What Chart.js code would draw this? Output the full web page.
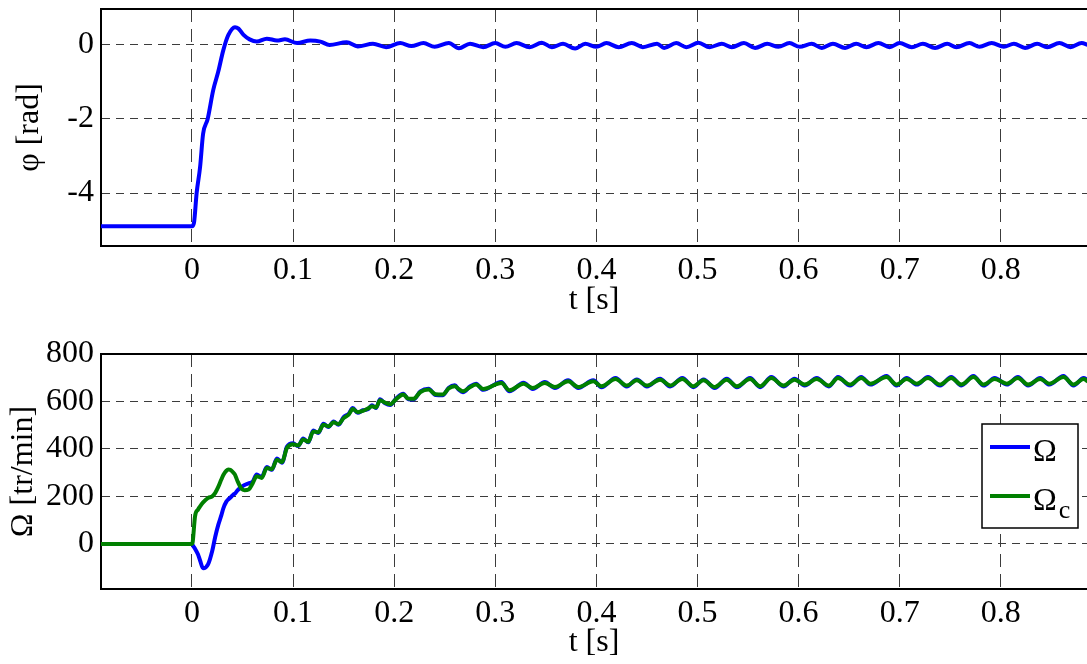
<!DOCTYPE html>
<html><head><meta charset="utf-8">
<script src="https://cdn.jsdelivr.net/npm/chart.js@4"></script>
<style>
html,body{margin:0;padding:0;background:#fff;}
#wrap{position:relative;width:1087px;height:664px;overflow:hidden;background:#fff;}
canvas{position:absolute;left:0;}
</style></head><body>
<div id="wrap">
<canvas id="c1" width="1087" height="330" style="top:0px"></canvas>
<canvas id="c2" width="1087" height="334" style="top:330px"></canvas>
</div>
<script>
// ---- tick labels ----
const xTicks = [0, 0.1, 0.2, 0.3, 0.4, 0.5, 0.6, 0.7, 0.8];
const phiTicks = [-4, -2, 0];
const omegaTicks = [0, 200, 400, 600, 800];

// ---- top plot: phi [rad] vs t [s] ----
const phiT = [
  -0.09, 0, 0.002, 0.0046, 0.008, 0.011, 0.0155, 0.021, 0.026, 0.031,
  0.036, 0.0425, 0.046, 0.051, 0.057, 0.064, 0.074, 0.084, 0.092, 0.104,
  0.117, 0.127, 0.136, 0.153, 0.164, 0.179, 0.192, 0.206, 0.217, 0.229,
  0.240, 0.254, 0.264, 0.275, 0.288, 0.300, 0.310, 0.321, 0.334, 0.346,
  0.356, 0.367, 0.379, 0.389, 0.400, 0.410, 0.422, 0.435, 0.446, 0.460,
  0.467, 0.479, 0.489, 0.501, 0.512, 0.524, 0.534, 0.546, 0.557, 0.569,
  0.580, 0.591, 0.601, 0.613, 0.623, 0.634, 0.646, 0.657, 0.667, 0.679,
  0.690, 0.700, 0.712, 0.723, 0.735, 0.747, 0.756, 0.769, 0.779, 0.791,
  0.803, 0.813, 0.824, 0.836, 0.846, 0.858, 0.869, 0.880, 0.886
];
const phi = [
  -4.9, -4.9, -4.8, -4.0, -3.3, -2.4, -2.0, -1.22, -0.72, -0.14,
  0.27, 0.48, 0.44, 0.27, 0.15, 0.09, 0.17, 0.12, 0.15, 0.05,
  0.12, 0.09, 0.0, 0.07, -0.04, 0.03, -0.06, 0.05, -0.03, 0.05,
  -0.05, 0.05, -0.09, 0.03, -0.06, 0.05, -0.05, 0.05, -0.06, 0.06,
  -0.06, 0.03, -0.1, 0.03, -0.05, 0.05, -0.06, 0.05, -0.06, 0.03,
  -0.08, 0.05, -0.06, 0.06, -0.06, 0.03, -0.06, 0.05, -0.08, 0.03,
  -0.05, 0.05, -0.05, 0.03, -0.08, 0.03, -0.08, 0.03, -0.06, 0.05,
  -0.06, 0.05, -0.06, 0.03, -0.08, 0.03, -0.06, 0.05, -0.05, 0.05,
  -0.05, 0.03, -0.08, 0.03, -0.06, 0.05, -0.06, 0.05, 0.0
];

// ---- bottom plot: Omega [tr/min] vs t [s] ----
const omegaT = [
  -0.09, 0, 0.0006, 0.003, 0.006, 0.008, 0.011, 0.016, 0.020, 0.023,
  0.026, 0.029, 0.031, 0.034, 0.036, 0.038, 0.041, 0.0425, 0.045, 0.049,
  0.052, 0.056, 0.060, 0.064, 0.069, 0.074, 0.079, 0.084, 0.089, 0.094,
  0.100, 0.105, 0.110, 0.115, 0.120, 0.125, 0.130, 0.135, 0.140, 0.145,
  0.150, 0.155, 0.159, 0.164, 0.169, 0.174, 0.178, 0.182, 0.186, 0.191,
  0.196, 0.202, 0.209, 0.214, 0.219, 0.226, 0.234, 0.241, 0.248, 0.254,
  0.260, 0.264, 0.268, 0.275, 0.281, 0.288, 0.306, 0.314, 0.328, 0.337,
  0.349, 0.359, 0.372, 0.382, 0.397, 0.405, 0.419, 0.430, 0.440, 0.450,
  0.463, 0.473, 0.485, 0.496, 0.506, 0.517, 0.529, 0.539, 0.552, 0.562,
  0.573, 0.585, 0.596, 0.606, 0.618, 0.630, 0.639, 0.651, 0.662, 0.671,
  0.687, 0.697, 0.707, 0.717, 0.728, 0.740, 0.751, 0.761, 0.773, 0.783,
  0.794, 0.806, 0.817, 0.827, 0.839, 0.848, 0.862, 0.872, 0.882, 0.886
];
const omega = [
  0, 0, -5, -20, -45, -70, -103, -85, -30, 30,
  80, 120, 150, 178, 188, 195, 208, 212, 225, 240,
  248, 255, 262, 292, 282, 324, 312, 360, 342, 410,
  424, 412, 444, 428, 478, 467, 506, 492, 516, 502,
  534, 548, 572, 552, 563, 567, 584, 572, 609, 592,
  585, 613, 633, 609, 608, 643, 654, 627, 626, 658,
  668, 649, 639, 663, 675, 649, 682, 643, 679, 653,
  682, 657, 689, 657, 689, 660, 699, 663, 693, 663,
  696, 663, 699, 660, 693, 657, 696, 660, 699, 660,
  703, 663, 696, 667, 699, 663, 703, 667, 703, 671,
  707, 667, 699, 671, 703, 667, 703, 667, 707, 667,
  699, 671, 703, 667, 699, 671, 707, 667, 699, 689
];
const omegaC = [
  0, 0, 5, 116, 145, 158, 175, 194, 200, 215,
  240, 271, 290, 308, 313, 312, 300, 292, 265, 232,
  226, 229, 255, 285, 278, 320, 315, 355, 345, 405,
  420, 415, 440, 430, 474, 470, 502, 495, 512, 505,
  530, 545, 568, 555, 560, 570, 580, 575, 605, 595,
  588, 610, 629, 612, 611, 640, 650, 630, 629, 655,
  664, 652, 643, 660, 671, 653, 678, 647, 675, 657,
  678, 661, 685, 661, 685, 664, 695, 667, 689, 667,
  692, 667, 695, 664, 689, 661, 692, 664, 695, 664,
  699, 667, 692, 671, 695, 667, 699, 671, 699, 675,
  703, 671, 695, 675, 699, 671, 699, 671, 703, 671,
  695, 675, 699, 671, 695, 675, 703, 671, 695, 685
];

const seriesLabels = ['Ω', 'Ω_c'];
const FONT = 'Liberation Serif';
const FS = 32;

function pts(xs, ys) {
  const n = Math.min(xs.length, ys.length);
  const out = [];
  for (let i = 0; i < n; i++) out.push({x: xs[i], y: ys[i]});
  return out;
}
function fmtX(v) { const r = Math.round(v * 10) / 10; return r === 0 ? '0' : String(r); }

const topBorder = {
  id: 'topBorder',
  afterDraw(chart) {
    const {ctx, chartArea: a} = chart;
    ctx.save();
    ctx.strokeStyle = '#000';
    ctx.lineWidth = 2;
    ctx.beginPath();
    ctx.moveTo(a.left - 1, a.top);
    ctx.lineTo(a.right, a.top);
    ctx.stroke();
    ctx.restore();
  }
};

const boxLegend = {
  id: 'boxLegend',
  afterDatasetsDraw(chart) {
    const {ctx, chartArea: a} = chart;
    const w = 96, h = 104;
    const left = a.right - 9 - w, top = a.top + 70;
    ctx.save();
    ctx.fillStyle = '#fff';
    ctx.fillRect(left, top, w, h);
    ctx.strokeStyle = '#000';
    ctx.lineWidth = 1.5;
    ctx.strokeRect(left, top, w, h);
    const rows = [top + 23, top + 72];
    chart.data.datasets.forEach((ds, i) => {
      const y = rows[i];
      ctx.strokeStyle = ds.borderColor;
      ctx.lineWidth = 4;
      ctx.beginPath();
      ctx.moveTo(left + 8, y);
      ctx.lineTo(left + 48, y);
      ctx.stroke();
      const parts = ds.label.split('_');
      ctx.fillStyle = '#000';
      ctx.textBaseline = 'alphabetic';
      ctx.textAlign = 'left';
      ctx.font = FS + 'px "' + FONT + '"';
      ctx.fillText(parts[0], left + 51, y + 14);
      if (parts[1]) {
        const wm = ctx.measureText(parts[0]).width;
        ctx.font = Math.round(FS * 0.8) + 'px "' + FONT + '"';
        ctx.fillText(parts[1], left + 51 + wm + 2, y + 22);
      }
    });
    ctx.restore();
  }
};

function makeOptions(cfg) {
  return {
    responsive: false,
    animation: false,
    devicePixelRatio: 1,
    events: [],
    layout: {padding: {top: cfg.padTop, left: 0, right: 0, bottom: 0}},
    plugins: {legend: {display: false}, tooltip: {enabled: false}},
    elements: {point: {radius: 0}, line: {cubicInterpolationMode: 'monotone', borderWidth: 4, borderJoinStyle: 'round', borderCapStyle: 'round'}},
    scales: {
      x: {
        type: 'linear',
        min: -0.09,
        max: 0.8853,
        afterBuildTicks: s => { s.ticks = xTicks.map(v => ({value: v})); },
        afterFit: s => { s.height = cfg.xHeight; s.paddingLeft = 0; s.paddingRight = 0; },
        ticks: {callback: v => fmtX(v), color: '#000', padding: 5, maxRotation: 0, autoSkip: false, font: {family: FONT, size: FS}},
        grid: {color: '#3c3c3c', lineWidth: 1, drawTicks: false},
        border: {color: '#000', width: 2, dash: [13, 7]},
        title: {display: true, text: 't [s]', color: '#000', font: {family: FONT, size: FS}, padding: {top: 0, bottom: cfg.xTitlePad}}
      },
      y: {
        type: 'linear',
        min: cfg.yMin,
        max: cfg.yMax,
        afterBuildTicks: s => { s.ticks = cfg.yTicks.map(v => ({value: v})); },
        afterFit: s => { s.width = 101; s.paddingTop = 0; s.paddingBottom = 0; },
        ticks: {callback: v => String(v), color: '#000', padding: 7, autoSkip: false, font: {family: FONT, size: FS}},
        grid: {color: '#3c3c3c', lineWidth: 1, drawTicks: false},
        border: {color: '#000', width: 2, dash: [8, 6]},
        title: {display: true, text: cfg.yTitle, color: '#000', font: {family: FONT, size: FS}, padding: {top: cfg.yTitlePad, bottom: 0}}
      }
    }
  };
}

Chart.defaults.font.family = FONT;

new Chart(document.getElementById('c1'), {
  type: 'line',
  data: {datasets: [{label: 'φ', data: pts(phiT, phi), borderColor: '#0000ff', fill: false}]},
  options: makeOptions({padTop: 9, xHeight: 84, xTitlePad: 10, yMin: -5.43, yMax: 0.97, yTicks: phiTicks, yTitle: 'φ [rad]', yTitlePad: 10}),
  plugins: [topBorder]
});

new Chart(document.getElementById('c2'), {
  type: 'line',
  data: {datasets: [
    {label: seriesLabels[0], data: pts(omegaT, omega), borderColor: '#0000ff', fill: false, order: 1},
    {label: seriesLabels[1], data: pts(omegaT, omegaC), borderColor: '#008000', fill: false, order: 0}
  ]},
  options: makeOptions({padTop: 24, xHeight: 75, xTitlePad: 2, yMin: -190, yMax: 800, yTicks: omegaTicks, yTitle: 'Ω [tr/min]', yTitlePad: 4}),
  plugins: [topBorder, boxLegend]
});
</script>
</body></html>
